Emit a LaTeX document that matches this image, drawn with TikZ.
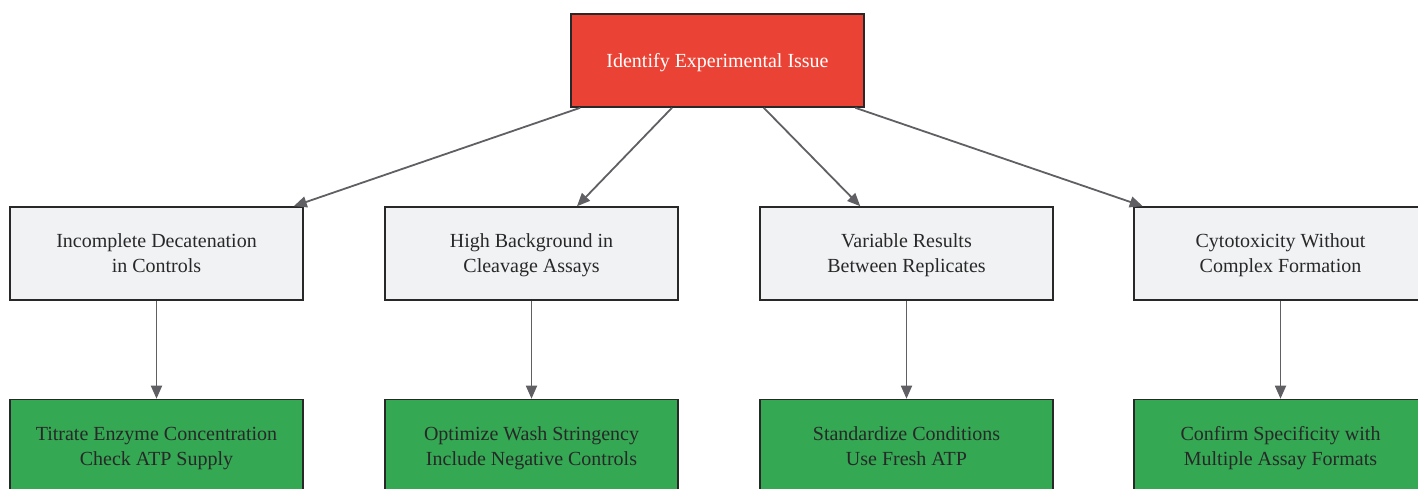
\documentclass[tikz,border=0pt]{standalone}
\usepackage{fontspec}
\setmainfont{Liberation Serif}
\usetikzlibrary{arrows.meta}
\definecolor{issuered}{RGB}{234,67,53}
\definecolor{probgray}{RGB}{241,242,244}
\definecolor{fixgreen}{RGB}{52,168,83}
\definecolor{edgegray}{RGB}{95,95,100}
\definecolor{txtdark}{RGB}{40,40,40}
\tikzset{>={Triangle[length=13pt,width=11pt]}}
\tikzset{
  box/.style={draw=txtdark,line width=1.6pt,minimum width=293pt,minimum height=93pt,
    align=center,text=txtdark,font=\fontsize{20}{25}\selectfont,
    text height=41pt,text depth=3pt},
  issue/.style={box,fill=issuered,text=white,text height=14pt,text depth=0pt},
  problem/.style={box,fill=probgray},
  fix/.style={box,fill=fixgreen},
  link/.style={edgegray,line width=1.8pt,->}
}

\begin{document}
\begin{tikzpicture}[x=1pt,y=-1pt]
      \useasboundingbox (0,0) rectangle (1418,488);
      \clip (0,0) rectangle (1418,488);
      \node[issue] at (717.5,60.5) (top) {Identify Experimental Issue};
      \node[problem] at (156.5,253.5) (p1) {Incomplete Decatenation\\in Controls};
      \node[problem] at (531.5,253.5) (p2) {High Background in\\Cleavage Assays};
      \node[problem] at (906.5,253.5) (p3) {Variable Results\\Between Replicates};
      \node[problem] at (1280.5,253.5) (p4) {Cytotoxicity Without\\Complex Formation};
      \node[fix] at (156.5,446) (f1) {Titrate Enzyme Concentration\\Check ATP Supply};
      \node[fix] at (531.5,446) (f2) {Optimize Wash Stringency\\Include Negative Controls};
      \node[fix] at (906.5,446) (f3) {Standardize Conditions\\Use Fresh ATP};
      \node[fix] at (1280.5,446) (f4) {Confirm Specificity with\\Multiple Assay Formats};
      \foreach \n in {1,2,3,4}{
        \draw[link] (top) -- (p\n);
        \draw[link] (p\n) -- (f\n);
      }
\end{tikzpicture}
\end{document}
